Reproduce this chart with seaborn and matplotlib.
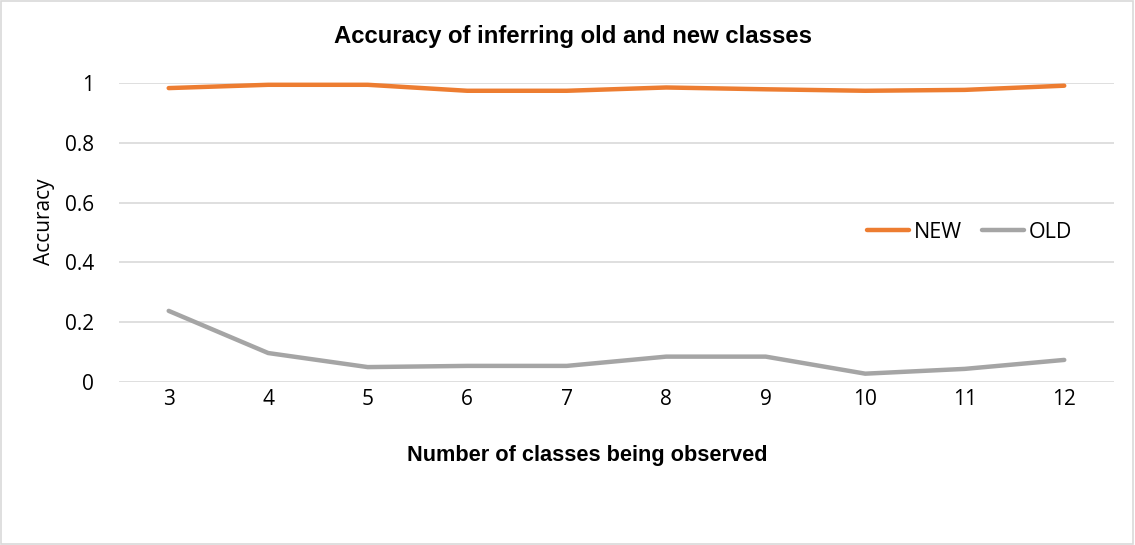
import pandas as pd
import seaborn as sns
import matplotlib.pyplot as plt
from matplotlib.patches import Rectangle

# data
classes = [3, 4, 5, 6, 7, 8, 9, 10, 11, 12]
new_acc = [0.983, 0.994, 0.994, 0.974, 0.974, 0.985, 0.979, 0.974, 0.977, 0.991]
old_acc = [0.238, 0.097, 0.050, 0.054, 0.054, 0.085, 0.085, 0.028, 0.044, 0.074]

df = pd.DataFrame({
    'classes': classes * 2,
    'acc': new_acc + old_acc,
    'type': ['NEW'] * len(classes) + ['OLD'] * len(classes),
})

sns.set_style('white')
plt.rcParams['font.family'] = ['Open Sans', 'DejaVu Sans']
plt.rcParams['text.color'] = 'black'
plt.rcParams['xtick.color'] = 'black'
plt.rcParams['ytick.color'] = 'black'

fig = plt.figure(figsize=(11.35, 5.45), dpi=100)
ax = fig.add_axes([0.1048, 0.299, 0.8767, 0.5487])

sns.lineplot(data=df, x='classes', y='acc', hue='type',
             palette={'NEW': '#ED7D31', 'OLD': '#A5A5A5'},
             linewidth=3.2, ax=ax, clip_on=False)

ax.set_xlim(2.5, 12.5)
ax.set_ylim(0, 1)
ax.set_xticks(classes)
ax.set_yticks([0, 0.2, 0.4, 0.6, 0.8, 1])
ax.set_yticklabels(['0', '0.2', '0.4', '0.6', '0.8', '1'])
ax.yaxis.grid(True, color='#D9D9D9', linewidth=1.2)
ax.set_axisbelow(True)
for s in ax.spines.values():
    s.set_visible(False)
ax.tick_params(axis='y', length=0, pad=18, labelsize=15, labelcolor='black')
ax.tick_params(axis='x', length=0, pad=5, labelsize=15, labelcolor='black')
ax.set_xlabel('')
ax.set_ylabel('')

# titles placed in figure coordinates, as in the source
fig.text(0.505, 1 - 36 / 545, 'Accuracy of inferring old and new classes',
         fontsize=17.2, fontweight='bold', family='Liberation Sans',
         ha='center', va='center', color='black')
fig.text(0.517, 1 - 455 / 545, 'Number of classes being observed',
         fontsize=15.7, fontweight='bold', family='Liberation Sans',
         ha='center', va='center', color='black')
fig.text(0.039, 1 - 222 / 545, 'Accuracy', fontsize=15, rotation=90,
         ha='center', va='center', color='black')

leg = ax.legend(loc='center', bbox_to_anchor=(0.855, 0.5), ncol=2, frameon=False,
                fontsize=15.5, handlelength=1.95, handletextpad=0.2, columnspacing=0.95)
leg.set_title(None)
for t in leg.get_texts():
    t.set_color('black')

fig.patches.append(Rectangle((0.001, 0.001), 0.997, 0.997, transform=fig.transFigure,
                             fill=False, edgecolor='#D9D9D9', linewidth=1.2))

fig.savefig('out.png', dpi=100)
